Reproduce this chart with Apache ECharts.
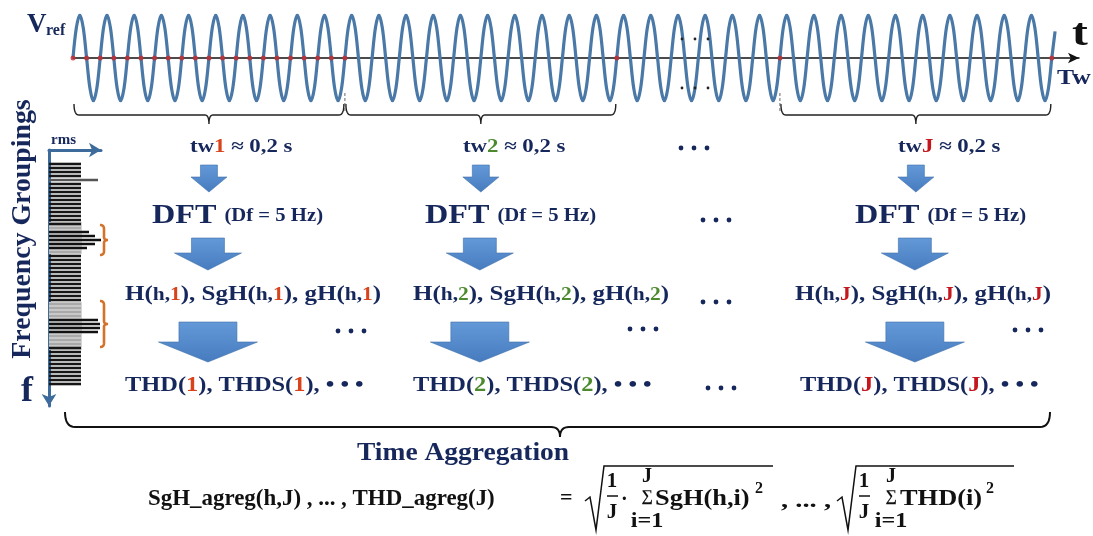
<!DOCTYPE html>
<html>
<head>
<meta charset="utf-8">
<script src="https://cdn.jsdelivr.net/npm/echarts@6/dist/echarts.min.js"></script>
<style>
  html, body { margin: 0; background: #fff; }
  #chart { width: 1093px; height: 536px; }
</style>
</head>
<body>
<div id="chart"></div>
<script>
var cycleShape = [0, 0.71, 1, 0.71, 0, -0.71, -1, -0.71];
var cycleCount = 36;
// time windows, in cycles (10 cycles ~ 0.2 s)
var windowStart = [0, 10, 26];
var windowEnd = [10, 20, 36];
var windowIndex = ['1', '2', 'J'];
// red sample marks on the t axis, in cycles
var sampleMarks = [0, 0.5, 1, 1.5, 2, 2.5, 3, 3.5, 4, 4.5, 5, 5.5, 6, 6.5, 7, 7.5, 8, 8.5, 9, 9.5, 10, 20, 26, 36];

// spectrum on the left: rms per 5 Hz bin, top to bottom
var rmsBins = [32, 32, 32, 32, 49, 32, 32, 32, 32, 32, 32, 32, 32, 32, 32, 32,
               32, 40, 46, 53, 46, 38, 32,
               32, 32, 32, 32, 32, 32, 32, 32, 32, 32, 32, 32,
               32, 32, 32, 32, 49, 51, 51, 49, 32, 32, 32,
               32, 32, 32, 32, 32, 32, 32, 32, 32, 32];
var groupBins = [[16, 22], [35, 45]];
var padTop = 3, padBottom = 5;

var navy = '#16275b';
var serif = '"Liberation Serif", "DejaVu Serif", serif';
var indexColor = ['#d8431b', '#4d8a2f', '#c4161c'];

var wave = [];
for (var c = 0; c < cycleCount; c++) {
    cycleShape.forEach(function (v, k) { wave.push([c + k / cycleShape.length, v]); });
}
wave.push([cycleCount, 0], [cycleCount + 0.12, 0.62]);

var binLabels = [], binData = [];
for (var i = 0; i < padTop; i++) { binLabels.push('p' + i); binData.push('-'); }
rmsBins.forEach(function (v, k) { binLabels.push(String(k)); binData.push(v); });
for (var i = 0; i < padBottom; i++) { binLabels.push('q' + i); binData.push('-'); }

function inGroup(k) {
    for (var g = 0; g < groupBins.length; g++) {
        if (k >= groupBins[g][0] && k <= groupBins[g][1]) return true;
    }
    return false;
}

var chart = echarts.init(document.getElementById('chart'));
chart.setOption({
    animation: false,
    grid: [
        { left: 73, top: 15, width: 1006, height: 86 },
        { left: 49, top: 150, width: 52, height: (padTop + rmsBins.length + padBottom) * 4 }
    ],
    xAxis: [{
        gridIndex: 0, type: 'value', min: 0, max: 37,
        axisLine: { onZero: true, symbol: ['none', 'arrow'], symbolSize: [8, 11], lineStyle: { color: '#111', width: 1.5 } },
        axisTick: { show: false }, axisLabel: { show: false }, splitLine: { show: false }
    }, {
        gridIndex: 1, type: 'value', position: 'top', min: 0, max: 52,
        axisLine: { show: true, symbol: ['none', 'arrow'], symbolSize: [11, 12], lineStyle: { color: '#3d6c9c', width: 3 } },
        axisTick: { show: false }, axisLabel: { show: false }, splitLine: { show: false }
    }],
    yAxis: [{
        gridIndex: 0, type: 'value', min: -1, max: 1, show: false
    }, {
        gridIndex: 1, type: 'category', inverse: true, data: binLabels,
        axisLine: { show: true, symbol: ['arrow', 'none'], symbolSize: [11, 12], lineStyle: { color: '#3d6c9c', width: 3 } },
        axisTick: { show: false }, axisLabel: { show: false }, splitLine: { show: false }
    }],
    series: [{
        type: 'line', xAxisIndex: 0, yAxisIndex: 0, data: wave,
        smooth: 0.35, symbol: 'none',
        lineStyle: { color: '#4a79a8', width: 3.2 }
    }, {
        type: 'scatter', xAxisIndex: 0, yAxisIndex: 0,
        data: sampleMarks.map(function (x) { return [x, 0]; }),
        symbolSize: 5, itemStyle: { color: '#c4282d' }, z: 5
    }, {
        type: 'bar', xAxisIndex: 1, yAxisIndex: 1, data: binData, barWidth: 2.6,
        itemStyle: {
            color: function (p) {
                var k = p.dataIndex - padTop;
                if (inGroup(k)) return p.value > 33 ? '#111' : '#a9a9a9';
                return p.value > 33 ? '#555' : '#161616';
            }
        },
        markArea: {
            silent: true,
            itemStyle: { color: '#d6d6d6' },
            data: groupBins.map(function (g) {
                return [{ xAxis: 0, yAxis: String(g[0]) }, { xAxis: 33, yAxis: String(g[1]) }];
            })
        }
    }]
});

// ---- diagram annotations placed from the axes ----
function px(x, y) { return chart.convertToPixel({ gridIndex: 0 }, [x, y]); }
function text(x, y, t, size, color, sx, extra) {
    var s = { text: t, fill: color || navy, font: 'bold ' + size + 'px ' + serif, verticalAlign: 'middle', align: 'left' };
    if (extra) for (var k in extra) s[k] = extra[k];
    return { type: 'text', x: x, y: y, scaleX: sx || 1, style: s, z: 10 };
}
function richText(x, y, t, rich, sx) {
    var r = {};
    for (var k in rich) r[k] = { fill: rich[k][1], fontSize: rich[k][0], fontFamily: serif, fontWeight: 'bold' };
    return { type: 'text', x: x, y: y, scaleX: sx || 1, style: { text: t, rich: r, verticalAlign: 'middle', align: 'left' }, z: 10 };
}
function line(points, color, width, dash) {
    return { type: 'polyline', shape: { points: points }, style: { stroke: color, lineWidth: width, fill: null, lineDash: dash || null }, z: 10 };
}
// curve made of straight runs and quadratic corners: segs = [[x,y] | [cx,cy,x,y], ...]
function curve(segs, color, width) {
    var pts = [segs[0]];
    for (var i = 1; i < segs.length; i++) {
        var s = segs[i], p0 = pts[pts.length - 1];
        if (s.length === 2) { pts.push(s); continue; }
        for (var t = 0.125; t <= 1.0001; t += 0.125) {
            var u = 1 - t;
            pts.push([u * u * p0[0] + 2 * u * t * s[0] + t * t * s[2], u * u * p0[1] + 2 * u * t * s[1] + t * t * s[3]]);
        }
    }
    return line(pts, color, width);
}
var arrowFill = { type: 'linear', x: 0, y: 0, x2: 0, y2: 1, colorStops: [{ offset: 0, color: '#6499d8' }, { offset: 1, color: '#467bbf' }] };
function blockArrow(cx, top, sw, sh, hw, hh) {
    return {
        type: 'polygon', z: 10,
        shape: { points: [[cx - sw / 2, top], [cx + sw / 2, top], [cx + sw / 2, top + sh], [cx + hw / 2, top + sh],
                          [cx, top + sh + hh], [cx - hw / 2, top + sh], [cx - sw / 2, top + sh]] },
        style: { fill: arrowFill, stroke: '#4070aa', lineWidth: 0.6 }
    };
}
function dots(out, x, y) {
    [0, 13, 26].forEach(function (d) {
        out.push({ type: 'circle', shape: { cx: x + 3 + d, cy: y, r: 2.4 }, style: { fill: navy }, z: 10 });
    });
}

var g = [];
// labels of the time plot
g.push(text(27, 25, 'V', 27, navy));
g.push(text(46, 31, 'ref', 16, navy));
g.push(text(1072, 35, 't', 38, '#111', 1.25));
g.push(text(1057, 79, 'Tw', 21, navy, 1.22));
[682, 695, 708].forEach(function (x) {
    g.push({ type: 'circle', shape: { cx: x, cy: 39, r: 1.4 }, style: { fill: '#222' }, z: 10 });
    g.push({ type: 'circle', shape: { cx: x, cy: 88, r: 1.4 }, style: { fill: '#222' }, z: 10 });
});

// braces under each window + dashed window limits
var centers = [];
for (var w = 0; w < windowStart.length; w++) {
    var a = px(windowStart[w], 0)[0] + 1, b = px(windowEnd[w], 0)[0] - 1, m = (a + b) / 2;
    centers.push(m);
    g.push(curve([[a, 104], [a, 115, a + 5, 115], [m - 4, 115], [m, 115, m, 124], [m, 115, m + 4, 115],
                  [b - 5, 115], [b, 115, b, 104]], '#222', 1.4));
}
[10, 26].forEach(function (t) {
    var x = px(t, 0)[0];
    g.push(line([[x, 93], [x, 111]], '#666', 1, [3, 2]));
});

// processing columns
var layout = [
    { tw: 190, dft: 152, h: 125, thd: 125 },
    { tw: 463, dft: 425, h: 413, thd: 413 },
    { tw: 898, dft: 855, h: 795, thd: 800 }
];
for (var w = 0; w < 3; w++) {
    var L = layout[w], cx = centers[w], ic = indexColor[w], n = windowIndex[w];
    g.push(richText(L.tw, 147, '{n|tw}{i|' + n + '}{n| \u2248 0,2 s}', { n: [19, navy], i: [19, ic] }, 1.2));
    g.push(blockArrow(cx, 165, 17, 12, 36, 15));
    g.push(richText(L.dft, 216, '{a|DFT }{s|(Df = 5 Hz)}', { a: [28, navy], s: [18, navy] }, 1.15));
    g.push(blockArrow(cx - 1, 238, 33, 15, 67, 17));
    g.push(richText(L.h, 295, '{b|H(}{s|h,}{i|' + n + '}{b|), SgH(}{s|h,}{i|' + n + '}{b|), gH(}{s|h,}{i|' + n + '}{b|)}',
        { b: [21, navy], s: [18, navy], i: [18, ic] }, 1.19));
    g.push(blockArrow(cx - 1, 322, 58, 20, 99, 20));
    g.push(richText(L.thd, 385, '{b|THD(}{i|' + n + '}{b|), THDS(}{i|' + n + '}{b|), \u2022 \u2022 \u2022}', { b: [22, navy], i: [22, ic] }, 1.11));
}
dots(g, 678, 148);
dots(g, 700, 220);
dots(g, 700, 302);
dots(g, 335, 331);
dots(g, 627, 329);
dots(g, 1012, 330);
dots(g, 705, 388);

// spectrum labels and grouping braces
g.push(text(51, 140, 'rms', 15, navy));
g.push(text(21, 392, 'f', 36, navy));
g.push({ type: 'text', x: 23, y: 229, rotation: Math.PI / 2, scaleX: 1.03, z: 10,
    style: { text: 'Frequency Groupings', fill: navy, font: 'bold 27px ' + serif, align: 'center', verticalAlign: 'middle' } });
groupBins.forEach(function (gr) {
    var y0 = chart.convertToPixel({ gridIndex: 1 }, [0, String(gr[0])])[1] - 3;
    var y1 = chart.convertToPixel({ gridIndex: 1 }, [0, String(gr[1])])[1] + 3;
    var ym = (y0 + y1) / 2, x0 = 100, x1 = 104, x2 = 108;
    g.push(curve([[x0, y0], [x1, y0, x1, y0 + 4], [x1, ym - 3], [x1, ym, x2, ym], [x1, ym, x1, ym + 3],
                  [x1, y1 - 4], [x1, y1, x0, y1]], '#d4722a', 2.6));
});

// time aggregation brace and formula
g.push(curve([[65, 412], [65, 427, 75, 427], [551, 427], [560, 427, 560, 437], [560, 427, 569, 427],
              [1040, 427], [1050, 427, 1050, 412]], '#111', 2));
g.push(text(357, 454, 'Time Aggregation', 25, navy, 1.1));
g.push(text(148, 499, 'SgH_agreg(h,J) , ... , THD_agreg(J)', 24, '#111', 0.955));
g.push(text(560, 498, '=', 22, '#111'));
// [sqrt start, sqrt end, body, sigma x, body x, square x]
[[585, 773, 'SgH(h,i)', 647, 655, 755], [837, 1014, 'THD(i)', 891, 900, 986]].forEach(function (f, k) {
    var x = f[0];
    g.push(line([[x, 501], [x + 5, 497], [x + 11, 530], [x + 19, 466], [f[1], 466]], '#111', 1.5));
    g.push(text(x + 27, 482, '1', 21, '#111', 1, { align: 'center' }));
    g.push(line([[x + 22, 496], [x + 33, 496]], '#111', 1.5));
    g.push(text(x + 27, 513, 'J', 21, '#111', 1, { align: 'center' }));
    if (k === 0) g.push(text(x + 36, 500, '\u00b7', 20, '#111'));
    g.push(text(f[3], 477, 'J', 20, '#111', 1, { align: 'center' }));
    g.push(text(f[3], 497, '\u2211', 16, '#111', 1, { align: 'center' }));
    g.push(text(f[3], 521, 'i=1', 22, '#111', 1.1, { align: 'center' }));
    g.push(text(f[4], 499, f[2], 24, '#111', 1.1));
    g.push(text(f[5], 489, '2', 16, '#111'));
});
g.push(text(781, 501, ', ... ,', 22, '#111', 1.3));

chart.setOption({ graphic: g });
</script>
</body>
</html>
